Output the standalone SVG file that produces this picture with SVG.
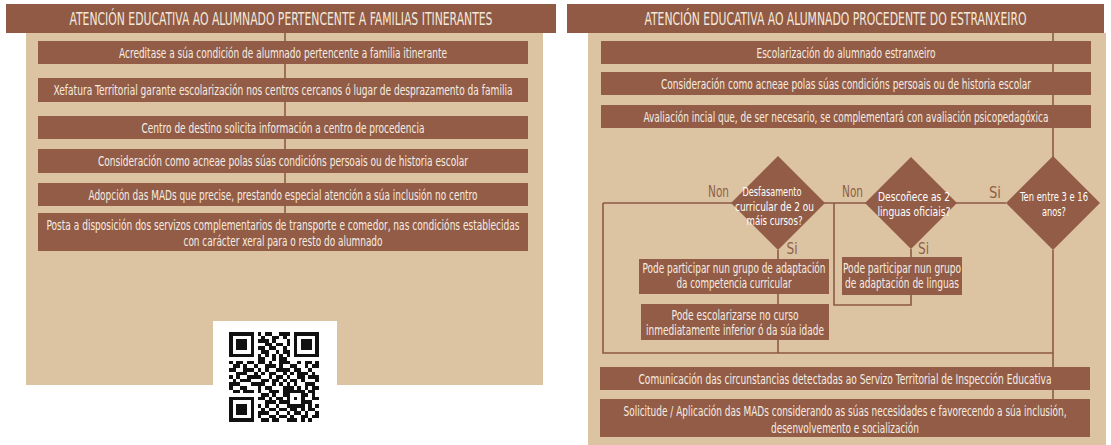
<svg xmlns="http://www.w3.org/2000/svg" width="1111" height="445" viewBox="0 0 1111 445">
<style>
.panel{fill:#dcc3a2}
.bar{fill:#905a44}
.box{fill:#925c46}
.ttl{font-family:"Liberation Sans Narrow","DejaVu Sans Condensed","Liberation Sans",sans-serif;font-size:18px;fill:#f4e9dd;text-anchor:middle}
.t{font-family:"Liberation Sans Narrow","DejaVu Sans Condensed","Liberation Sans",sans-serif;font-size:14px;fill:#f6ece2;text-anchor:middle}
.dt{font-family:"Liberation Sans Narrow","DejaVu Sans Condensed","Liberation Sans",sans-serif;font-size:13px;fill:#ffffff;text-anchor:middle}
.lbl{font-family:"Liberation Sans Narrow","DejaVu Sans Condensed","Liberation Sans",sans-serif;font-size:16px;fill:#8f5f48;text-anchor:middle}
.ln{stroke:#8d5a44;stroke-width:1.6;fill:none}
</style>
<rect width="1111" height="445" fill="#ffffff"/>
<g id="left-panel">
<rect class="panel" x="26" y="33" width="517" height="352"/>
<rect class="bar" x="6" y="4" width="550" height="29"/>
<text class="ttl" x="281" y="24.5" textLength="423" lengthAdjust="spacingAndGlyphs">ATENCIÓN EDUCATIVA AO ALUMNADO PERTENCENTE A FAMILIAS ITINERANTES</text>
</g>
<g id="right-panel">
<rect class="panel" x="588" y="33" width="518" height="412"/>
<rect class="bar" x="567" y="4" width="537" height="29"/>
<text class="ttl" x="835.5" y="24.5" textLength="382" lengthAdjust="spacingAndGlyphs">ATENCIÓN EDUCATIVA AO ALUMNADO PROCEDENTE DO ESTRANXEIRO</text>
</g>
<g id="connectors">
<path class="ln" d="M285 33V213"/>
<path class="ln" d="M1053 33V157"/>
<path class="ln" d="M603 203H1006"/>
<path class="ln" d="M603 203V353H1053"/>
<path class="ln" d="M834 203V305H911V295"/>
<path class="ln" d="M911 249V257"/>
<path class="ln" d="M778 250V259"/>
<path class="ln" d="M778 294V304"/>
<path class="ln" d="M778 340V353"/>
<path class="ln" d="M1053 250V399"/>
</g>
<g id="l1"><rect class="box" x="38" y="41" width="490" height="23"/><text class="t" x="283" y="57.5" textLength="328" lengthAdjust="spacingAndGlyphs">Acreditase a súa condición de alumnado pertencente a familia itinerante</text></g>
<g id="l2"><rect class="box" x="38" y="78" width="490" height="24"/><text class="t" x="283" y="95" textLength="459" lengthAdjust="spacingAndGlyphs">Xefatura Territorial garante escolarización nos centros cercanos ó lugar de desprazamento da familia</text></g>
<g id="l3"><rect class="box" x="38" y="116" width="490" height="23"/><text class="t" x="283" y="132.5" textLength="283" lengthAdjust="spacingAndGlyphs">Centro de destino solicita información a centro de procedencia</text></g>
<g id="l4"><rect class="box" x="38" y="149" width="490" height="24"/><text class="t" x="283" y="166" textLength="370" lengthAdjust="spacingAndGlyphs">Consideración como acneae polas súas condicións persoais ou de historia escolar</text></g>
<g id="l5"><rect class="box" x="38" y="183" width="490" height="23"/><text class="t" x="283" y="199.5" textLength="389" lengthAdjust="spacingAndGlyphs">Adopción das MADs que precise, prestando especial atención a súa inclusión no centro</text></g>
<g id="l6"><rect class="box" x="38" y="213" width="490" height="38"/><text class="t" x="283" y="229.5" textLength="473" lengthAdjust="spacingAndGlyphs">Posta a disposición dos servizos complementarios de transporte e comedor, nas condicións establecidas</text><text class="t" x="283" y="245.5" textLength="199" lengthAdjust="spacingAndGlyphs">con carácter xeral para o resto do alumnado</text></g>
<g id="qr">
<rect x="213" y="321" width="124" height="124" fill="#ffffff"/>
<g transform="translate(229,332) scale(3.6)" shape-rendering="crispEdges">
<path fill="#111" d="M0 0h7v7h-7z M18 0h7v7h-7z M0 18h7v7h-7z M16 16h5v5h-5z"/>
<path fill="#fff" d="M1 1h5v5h-5z M19 1h5v5h-5z M1 19h5v5h-5z M17 17h3v3h-3z"/>
<path fill="#111" d="M2 2h3v3h-3z M20 2h3v3h-3z M2 20h3v3h-3z M18 18h1v1h-1z"/>
<path fill="#111" d="M8 0h1v1h-1z M10 0h2v1h-2z M14 0h3v1h-3z M9 1h1v1h-1z M12 1h2v1h-2z M15 1h1v1h-1z M8 2h3v1h-3z M12 2h1v1h-1z M16 2h1v1h-1z M10 3h2v1h-2z M13 3h2v1h-2z M16 3h1v1h-1z M8 4h2v1h-2z M11 4h2v1h-2z M15 4h1v1h-1z M9 5h2v1h-2z M13 5h1v1h-1z M15 5h2v1h-2z M8 6h1v1h-1z M10 6h1v1h-1z M12 6h1v1h-1z M14 6h1v1h-1z M16 6h1v1h-1z M8 7h2v1h-2z M12 7h1v1h-1z M14 7h2v1h-2z M0 8h1v1h-1z M2 8h2v1h-2z M5 8h2v1h-2z M8 8h2v1h-2z M11 8h1v1h-1z M14 8h3v1h-3z M19 8h1v1h-1z M21 8h2v1h-2z M24 8h1v1h-1z M1 9h2v1h-2z M4 9h1v1h-1z M7 9h1v1h-1z M10 9h3v1h-3z M14 9h1v1h-1z M17 9h2v1h-2z M21 9h1v1h-1z M23 9h2v1h-2z M0 10h2v1h-2z M4 10h3v1h-3z M8 10h1v1h-1z M10 10h1v1h-1z M13 10h4v1h-4z M18 10h2v1h-2z M22 10h1v1h-1z M2 11h3v1h-3z M7 11h1v1h-1z M9 11h1v1h-1z M11 11h2v1h-2z M15 11h1v1h-1z M17 11h1v1h-1z M19 11h3v1h-3z M23 11h1v1h-1z M0 12h1v1h-1z M2 12h1v1h-1z M5 12h4v1h-4z M11 12h1v1h-1z M13 12h2v1h-2z M16 12h1v1h-1z M19 12h2v1h-2z M22 12h3v1h-3z M1 13h1v1h-1z M3 13h3v1h-3z M9 13h2v1h-2z M12 13h2v1h-2z M15 13h1v1h-1z M17 13h2v1h-2z M20 13h1v1h-1z M24 13h1v1h-1z M0 14h3v1h-3z M6 14h4v1h-4z M12 14h1v1h-1z M14 14h1v1h-1z M16 14h1v1h-1z M18 14h1v1h-1z M21 14h3v1h-3z M0 15h1v1h-1z M3 15h2v1h-2z M8 15h1v1h-1z M10 15h2v1h-2z M15 15h3v1h-3z M19 15h1v1h-1z M21 15h1v1h-1z M23 15h2v1h-2z M1 16h2v1h-2z M4 16h3v1h-3z M8 16h1v1h-1z M11 16h3v1h-3z M15 16h1v1h-1z M22 16h2v1h-2z M9 17h2v1h-2z M12 17h1v1h-1z M15 17h1v1h-1z M21 17h1v1h-1z M23 17h1v1h-1z M8 18h2v1h-2z M11 18h1v1h-1z M13 18h2v1h-2z M23 18h2v1h-2z M10 19h3v1h-3z M14 19h2v1h-2z M21 19h2v1h-2z M8 20h1v1h-1z M10 20h1v1h-1z M13 20h1v1h-1z M22 20h1v1h-1z M24 20h1v1h-1z M9 21h1v1h-1z M11 21h2v1h-2z M14 21h2v1h-2z M17 21h2v1h-2z M20 21h1v1h-1z M22 21h2v1h-2z M8 22h3v1h-3z M13 22h1v1h-1z M16 22h1v1h-1z M18 22h2v1h-2z M21 22h1v1h-1z M24 22h1v1h-1z M8 23h1v1h-1z M11 23h2v1h-2z M14 23h2v1h-2z M17 23h1v1h-1z M20 23h2v1h-2z M23 23h2v1h-2z M9 24h2v1h-2z M12 24h2v1h-2z M16 24h3v1h-3z M20 24h1v1h-1z M22 24h1v1h-1z"/>
</g>
</g>
<g id="r1"><rect class="box" x="601" y="41" width="490" height="23"/><text class="t" x="846" y="57.5" textLength="179" lengthAdjust="spacingAndGlyphs">Escolarización do alumnado estranxeiro</text></g>
<g id="r2"><rect class="box" x="601" y="72" width="490" height="23"/><text class="t" x="846" y="88.5" textLength="370" lengthAdjust="spacingAndGlyphs">Consideración como acneae polas súas condicións persoais ou de historia escolar</text></g>
<g id="r3"><rect class="box" x="601" y="105" width="490" height="23"/><text class="t" x="846" y="121.5" textLength="405" lengthAdjust="spacingAndGlyphs">Avaliación incial que, de ser necesario, se complementará con avaliación psicopedagóxica</text></g>
<g id="d3"><polygon class="box" points="1053,156 1100,203 1053,250 1006,203"/><text class="dt" x="1054" y="201" textLength="68" lengthAdjust="spacingAndGlyphs">Ten entre 3 e 16</text><text class="dt" x="1054" y="216" textLength="24" lengthAdjust="spacingAndGlyphs">anos?</text></g>
<g id="d2"><polygon class="box" points="911,157 957,203 911,249 865,203"/><text class="dt" x="914" y="201" textLength="72" lengthAdjust="spacingAndGlyphs">Descoñece as 2</text><text class="dt" x="914" y="216" textLength="73" lengthAdjust="spacingAndGlyphs">linguas oficiais?</text></g>
<g id="d1"><polygon class="box" points="778,156 825,203 778,250 731,203"/><text class="dt" x="772" y="196" textLength="59" lengthAdjust="spacingAndGlyphs">Desfasamento</text><text class="dt" x="774.5" y="211" textLength="79" lengthAdjust="spacingAndGlyphs">curricular de 2 ou</text><text class="dt" x="774.5" y="225" textLength="56" lengthAdjust="spacingAndGlyphs">máis cursos?</text></g>
<g id="labels">
<text class="lbl" x="718.5" y="197" textLength="21" lengthAdjust="spacingAndGlyphs">Non</text>
<text class="lbl" x="852.5" y="197" textLength="21" lengthAdjust="spacingAndGlyphs">Non</text>
<text class="lbl" x="995" y="198" textLength="12" lengthAdjust="spacingAndGlyphs">Si</text>
<text class="lbl" x="792" y="254" textLength="11" lengthAdjust="spacingAndGlyphs">Si</text>
<text class="lbl" x="923.5" y="254" textLength="11" lengthAdjust="spacingAndGlyphs">Si</text>
</g>
<g id="b-linguas"><rect class="box" x="842" y="257" width="120" height="38"/><text class="t" x="902" y="273" textLength="118" lengthAdjust="spacingAndGlyphs">Pode participar nun grupo</text><text class="t" x="902" y="288" textLength="114" lengthAdjust="spacingAndGlyphs">de adaptación de linguas</text></g>
<g id="b-competencia"><rect class="box" x="639" y="259" width="190" height="35"/><text class="t" x="734" y="273" textLength="183" lengthAdjust="spacingAndGlyphs">Pode participar nun grupo de adaptación</text><text class="t" x="734" y="288" textLength="115" lengthAdjust="spacingAndGlyphs">da competencia curricular</text></g>
<g id="b-escolarizarse"><rect class="box" x="641" y="304" width="188" height="36"/><text class="t" x="735" y="319.5" textLength="127" lengthAdjust="spacingAndGlyphs">Pode escolarizarse no curso</text><text class="t" x="735" y="335" textLength="178" lengthAdjust="spacingAndGlyphs">inmediatamente inferior ó da súa idade</text></g>
<g id="r4"><rect class="box" x="600" y="367" width="490" height="23"/><text class="t" x="845" y="383.5" textLength="413" lengthAdjust="spacingAndGlyphs">Comunicación das circunstancias detectadas ao Servizo Territorial de Inspección Educativa</text></g>
<g id="r5"><rect class="box" x="600" y="399" width="490" height="38"/><text class="t" x="845" y="416" textLength="443" lengthAdjust="spacingAndGlyphs">Solicitude / Aplicación das MADs considerando as súas necesidades e favorecendo a súa inclusión,</text><text class="t" x="845" y="432.5" textLength="148" lengthAdjust="spacingAndGlyphs">desenvolvemento e socialización</text></g>
</svg>
